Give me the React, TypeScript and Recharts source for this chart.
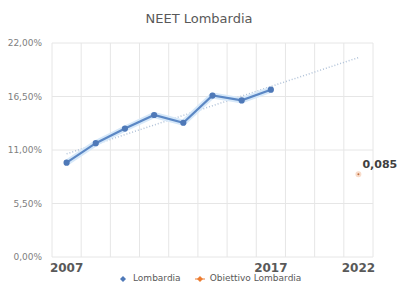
import { LineChart, Line, XAxis, YAxis, CartesianGrid, LabelList } from "recharts";

// category slots along the x axis (only three of them carry a label)
const X_LABELS = ["2007", "", "", "", "", "", "", "2017", "", "", "2022"];
// NEET rate Lombardia, in %
const LOMBARDIA = [9.7, 11.7, 13.2, 14.6, 13.8, 16.6, 16.1, 17.2];
// target for 2022
const OBIETTIVO = [{ slot: 10, value: 8.5, label: "0,085" }];
// linear trend line, read at its two ends
const TREND_ENDS = [{ slot: 0, value: 10.6 }, { slot: 10, value: 20.5 }];
const Y_TICKS = [0, 5.5, 11, 16.5, 22];

const data = X_LABELS.map((_, i) => {
  const obj = OBIETTIVO.find((o) => o.slot === i);
  const tr = TREND_ENDS.find((t) => t.slot === i);
  return {
    slot: i,
    lombardia: i < LOMBARDIA.length ? LOMBARDIA[i] : null,
    obiettivo: obj ? obj.value : null,
    obLabel: obj ? obj.label : "",
    trend: tr ? tr.value : null,
  };
});

const font = "'DejaVu Sans', sans-serif";

const ObLabel = (props: any) => {
  const { x, y, value } = props;
  if (!value) return null;
  return (
    <text x={x + 4} y={y - 6} fill="#404040" fontSize={11} fontWeight="bold" fontFamily={font}>
      {value}
    </text>
  );
};

const App = () => {
  return (
    <div style={{ position: "absolute", left: 0, top: 0, width: 398, height: 284, background: "#fff" }}>
      <div
        style={{
          position: "absolute",
          top: 11,
          width: 398,
          textAlign: "center",
          fontFamily: font,
          fontSize: 13,
          color: "#595959",
        }}
      >
        NEET Lombardia
      </div>
      <LineChart width={398} height={284} data={data} margin={{ top: 43, right: 25, left: 0, bottom: 0 }}>
        <CartesianGrid
          stroke="#e6e6e6"
          horizontal
          vertical
          verticalCoordinatesGenerator={({ offset }: any) =>
            X_LABELS.map((_, i) => offset.left + (i * offset.width) / X_LABELS.length).concat(offset.left + offset.width)
          }
        />
        <XAxis
          dataKey="slot"
          type="category"
          scale="band"
          interval={0}
          height={27}
          axisLine={false}
          tickLine={false}
          tickSize={0}
          tickMargin={6}
          tickFormatter={(v: number) => X_LABELS[v]}
          tick={{ fill: "#595959", fontSize: 12, fontWeight: "bold", fontFamily: font }}
        />
        <YAxis
          domain={[0, 22]}
          ticks={Y_TICKS}
          width={52}
          axisLine={false}
          tickLine={false}
          tickSize={0}
          tickMargin={10}
          tickFormatter={(v: number) => v.toFixed(2).replace(".", ",") + "%"}
          tick={{ fill: "#808080", fontSize: 9, fontFamily: font }}
        />
        <Line
          dataKey="trend"
          stroke="#b0c2d8"
          strokeWidth={1.5}
          strokeDasharray="1 2"
          dot={false}
          connectNulls
          isAnimationActive={false}
        />
        <Line
          dataKey="lombardia"
          stroke="#d6e8f9"
          strokeWidth={6}
          dot={false}
          isAnimationActive={false}
        />
        <Line
          dataKey="lombardia"
          stroke="#5b87c4"
          strokeWidth={2.2}
          dot={{ r: 2, fill: "#4f79b8", stroke: "#4f79b8" }}
          isAnimationActive={false}
        />
        <Line
          dataKey="obiettivo"
          stroke="#ed7d31"
          dot={{ r: 2, fill: "#c0703f", stroke: "#f8dccb", strokeWidth: 2 }}
          isAnimationActive={false}
        >
          <LabelList dataKey="obLabel" content={<ObLabel />} />
        </Line>
      </LineChart>
      <div
        style={{
          position: "absolute",
          top: 273,
          left: 118,
          display: "flex",
          alignItems: "center",
          gap: 14,
          fontFamily: font,
          fontSize: 9,
          color: "#595959",
          lineHeight: "11px",
        }}
      >
        <span style={{ display: "flex", alignItems: "center", gap: 5 }}>
          <svg width={10} height={8}>
            <polygon points="5,1 8,4 5,7 2,4" fill="#4f79b8" />
          </svg>
          Lombardia
        </span>
        <span style={{ display: "flex", alignItems: "center", gap: 5 }}>
          <svg width={10} height={8}>
            <line x1={0} y1={4} x2={10} y2={4} stroke="#f0a878" strokeWidth={1.5} />
            <polygon points="5,1 8,4 5,7 2,4" fill="#ed7d31" />
          </svg>
          Obiettivo Lombardia
        </span>
      </div>
    </div>
  );
};

export default App;
